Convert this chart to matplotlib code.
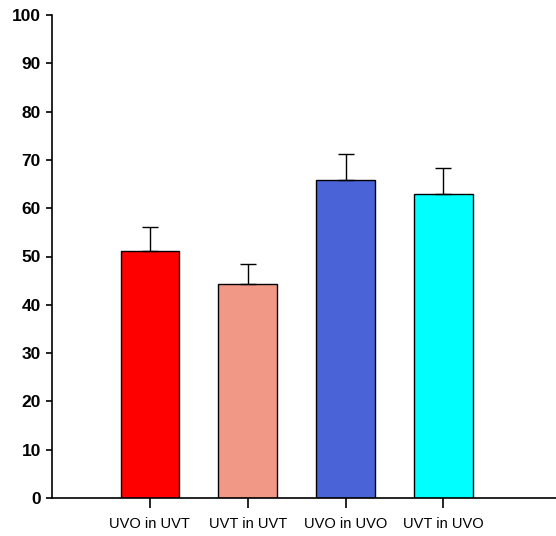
import matplotlib
matplotlib.use("Agg")
import matplotlib.pyplot as plt

categories = ["UVO in UVT", "UVT in UVT", "UVO in UVO", "UVT in UVO"]
means = [51.2, 44.4, 65.9, 62.9]
errors = [4.9, 4.1, 5.4, 5.4]
colors = ["#FF0000", "#F29886", "#4A64D8", "#00FFFF"]
yticks = [0, 10, 20, 30, 40, 50, 60, 70, 80, 90, 100]

plt.rcParams['font.family'] = ['Liberation Sans', 'DejaVu Sans']

fig = plt.figure(figsize=(5.56, 5.36), dpi=100)
ax = fig.add_axes([52/556, 1 - 498/536, 1 - 52/556, (498 - 15)/536])

x = list(range(len(categories)))
ax.bar(x, means, width=0.6, color=colors, edgecolor="black", linewidth=1.0, zorder=2)
ax.errorbar(x, means, yerr=[[0]*len(errors), errors], fmt="none", ecolor="black",
            elinewidth=1.0, capsize=6, capthick=1.0, zorder=3)

ax.set_xlim(-1, 4.15)
ax.set_ylim(0, 100)
ax.set_xticks(x)
ax.set_xticklabels(categories, fontsize=10.5)
ax.set_yticks(yticks)
ax.set_yticklabels([str(v) for v in yticks], fontsize=12.5, fontweight="bold")

for s in ["top", "right"]:
    ax.spines[s].set_visible(False)
for s in ["left", "bottom"]:
    ax.spines[s].set_linewidth(1.2)
ax.tick_params(axis="y", direction="out", length=4, width=1.2, pad=4)
ax.tick_params(axis="x", direction="out", length=7, width=1.2, pad=7)

fig.savefig("out.png", dpi=100)
